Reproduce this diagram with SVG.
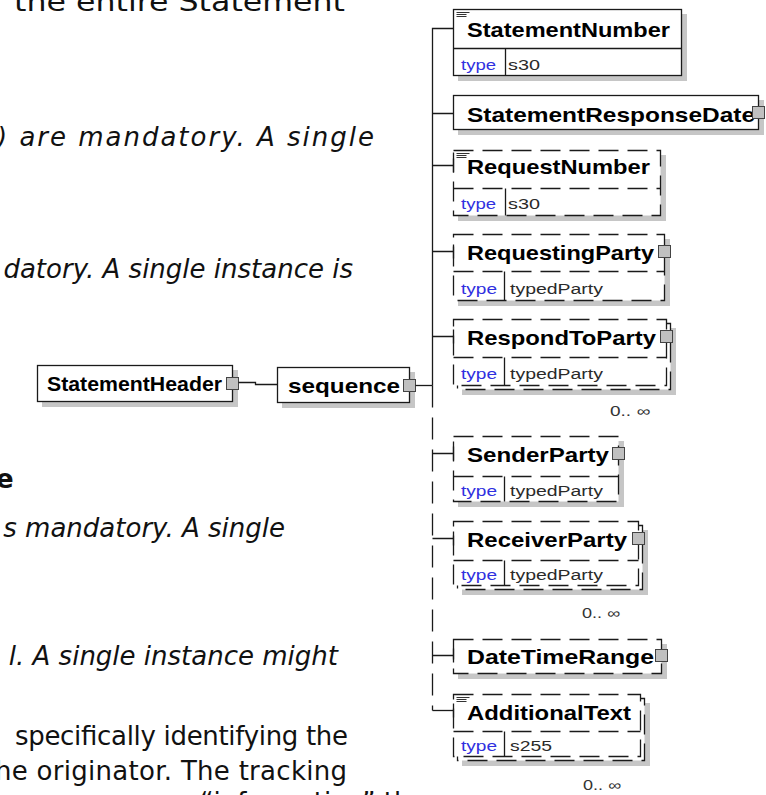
<svg xmlns="http://www.w3.org/2000/svg" width="766" height="795" viewBox="0 0 766 795">
<style>
.txt{font-family:"DejaVu Sans",Verdana,sans-serif;font-size:26px;fill:#111}
.it{font-style:italic}
.bd{font-weight:bold}
.sh{fill:#c6c6c6}
.bx{fill:#fff;stroke:#1a1a1a;stroke-width:1.3}
.dx{fill:#fff;stroke:#1a1a1a;stroke-width:1.3;stroke-dasharray:20 9}
.dl{fill:none;stroke:#1a1a1a;stroke-width:1.3;stroke-dasharray:20 9}
.ln{fill:none;stroke:#1a1a1a;stroke-width:1.3}
.lbl{font-family:"Liberation Sans",Arial,sans-serif;font-weight:bold;font-size:21px;fill:#000}
.typ{font-family:"Liberation Sans",Arial,sans-serif;font-size:15.5px;fill:#3030e0}
.val{font-family:"Liberation Sans",Arial,sans-serif;font-size:15.5px;fill:#2a2a2a}
.occ{font-family:"Liberation Sans",Arial,sans-serif;font-size:14px;fill:#333}
.ex{fill:#c0c0c0;stroke:#444;stroke-width:1}
.ann{fill:none;stroke:#333;stroke-width:1}
.cn{fill:none;stroke:#1a1a1a;stroke-width:1.3}
.dsh{stroke-dasharray:22 10}
</style>

<g id="page-text">
<text class="txt" x="14" y="11" font-size="31" textLength="331" lengthAdjust="spacingAndGlyphs">the entire Statement</text>
<text class="txt it" x="-3" y="146" font-size="27" textLength="377" lengthAdjust="spacing">) are mandatory. A single</text>
<text class="txt it" x="353" y="277.5" text-anchor="end">datory. A single instance is</text>
<text class="txt bd" x="-4" y="488">e</text>
<text class="txt it" x="285" y="537" text-anchor="end">s mandatory. A single</text>
<text class="txt it" x="338" y="665" text-anchor="end">l. A single instance might</text>
<text class="txt" x="15" y="745" textLength="333" lengthAdjust="spacing">specifically identifying the</text>
<text class="txt" x="-5" y="780" textLength="352" lengthAdjust="spacing">he originator. The tracking</text>
<text class="txt" x="200" y="811">“information” the</text>
</g>

<g id="StatementHeader">
<rect class="sh" x="42" y="370" width="196" height="37"/>
<rect class="bx" x="37.5" y="365.5" width="195" height="36"/>
<text class="lbl" x="47" y="391" textLength="175" lengthAdjust="spacingAndGlyphs">StatementHeader</text>
<rect class="ex" x="226.5" y="377.5" width="12" height="12"/>
</g>

<g id="sequence">
<rect class="sh" x="282" y="372" width="133" height="36"/>
<rect class="bx" x="277.5" y="367.5" width="132" height="35"/>
<text class="lbl" x="288" y="392.5" textLength="112" lengthAdjust="spacingAndGlyphs">sequence</text>
<rect class="ex" x="403.5" y="379.5" width="12" height="12"/>
</g>

<g id="StatementNumber">
<rect class="sh" x="458" y="14" width="229" height="67"/>
<rect class="bx" x="453.5" y="9.5" width="228" height="66"/>
<path class="ln" d="M453.5,48.5H681.5M505.5,48.5V75.5"/>
<path class="ann" d="M456.5,12.5H469.5M456.5,14.5H466.5M456.5,16.5H466.5"/>
<text class="lbl" x="467" y="36.5" textLength="203" lengthAdjust="spacingAndGlyphs">StatementNumber</text>
<text class="typ" x="461" y="69.5" textLength="35" lengthAdjust="spacingAndGlyphs">type</text>
<text class="val" x="508" y="69.5" textLength="32" lengthAdjust="spacingAndGlyphs">s30</text>
</g>

<g id="StatementResponseDate">
<rect class="sh" x="458" y="100" width="306" height="35"/>
<rect class="bx" x="453.5" y="95.5" width="305" height="34"/>
<text class="lbl" x="467" y="121.5" textLength="288" lengthAdjust="spacingAndGlyphs">StatementResponseDate</text>
<rect class="ex" x="752.5" y="106.5" width="12" height="12"/>
</g>

<g id="RequestNumber">
<rect class="sh" x="458" y="155" width="208" height="66"/>
<rect class="dx" x="453.5" y="150.5" width="207" height="65"/>
<path class="dl" d="M453.5,188.5H660.5"/>
<path class="ln" d="M505.5,188.5V215.5"/>
<path class="ann" d="M456.5,153.5H469.5M456.5,155.5H466.5M456.5,157.5H466.5"/>
<text class="lbl" x="467" y="174" textLength="183" lengthAdjust="spacingAndGlyphs">RequestNumber</text>
<text class="typ" x="461" y="209" textLength="35" lengthAdjust="spacingAndGlyphs">type</text>
<text class="val" x="508" y="209" textLength="32" lengthAdjust="spacingAndGlyphs">s30</text>
</g>

<g id="RequestingParty">
<rect class="sh" x="458" y="239" width="212" height="67"/>
<rect class="dx" x="453.5" y="234.5" width="211" height="66"/>
<path class="dl" d="M453.5,271.5H664.5"/>
<path class="ln" d="M504.5,271.5V300.5"/>
<text class="lbl" x="467" y="260" textLength="187" lengthAdjust="spacingAndGlyphs">RequestingParty</text>
<text class="typ" x="461" y="294" textLength="36" lengthAdjust="spacingAndGlyphs">type</text>
<text class="val" x="510" y="294" textLength="93" lengthAdjust="spacingAndGlyphs">typedParty</text>
<rect class="ex" x="658.5" y="245.5" width="12" height="12"/>
</g>

<g id="RespondToParty">
<rect class="sh" x="462" y="328" width="214" height="67"/>
<rect class="dx" x="457.5" y="323.5" width="213" height="66"/>
<rect class="dx" x="453.5" y="319.5" width="213" height="66"/>
<path class="dl" d="M453.5,357.5H666.5"/>
<path class="ln" d="M504.5,357.5V385.5"/>
<text class="lbl" x="467" y="345" textLength="189" lengthAdjust="spacingAndGlyphs">RespondToParty</text>
<text class="typ" x="461" y="379" textLength="36" lengthAdjust="spacingAndGlyphs">type</text>
<text class="val" x="510" y="379" textLength="93" lengthAdjust="spacingAndGlyphs">typedParty</text>
<rect class="ex" x="660.5" y="330.5" width="12" height="12"/>
<text class="occ" x="610" y="416" textLength="40" lengthAdjust="spacingAndGlyphs">0.. ∞</text>
</g>

<g id="SenderParty">
<rect class="sh" x="458" y="441" width="166" height="66"/>
<rect class="dx" x="453.5" y="436.5" width="165" height="65"/>
<path class="dl" d="M453.5,476.5H618.5"/>
<path class="ln" d="M504.5,476.5V501.5"/>
<text class="lbl" x="467" y="462" textLength="142" lengthAdjust="spacingAndGlyphs">SenderParty</text>
<text class="typ" x="461" y="495.5" textLength="36" lengthAdjust="spacingAndGlyphs">type</text>
<text class="val" x="510" y="495.5" textLength="93" lengthAdjust="spacingAndGlyphs">typedParty</text>
<rect class="ex" x="612.5" y="447.5" width="12" height="12"/>
</g>

<g id="ReceiverParty">
<rect class="sh" x="462" y="530" width="186" height="65"/>
<rect class="dx" x="457.5" y="525.5" width="185" height="64"/>
<rect class="dx" x="453.5" y="521.5" width="185" height="64"/>
<path class="dl" d="M453.5,560.5H638.5"/>
<path class="ln" d="M504.5,560.5V585.5"/>
<text class="lbl" x="467" y="547" textLength="160" lengthAdjust="spacingAndGlyphs">ReceiverParty</text>
<text class="typ" x="461" y="579.5" textLength="36" lengthAdjust="spacingAndGlyphs">type</text>
<text class="val" x="510" y="579.5" textLength="93" lengthAdjust="spacingAndGlyphs">typedParty</text>
<rect class="ex" x="632.5" y="532.5" width="12" height="12"/>
<text class="occ" x="582" y="618" textLength="38" lengthAdjust="spacingAndGlyphs">0.. ∞</text>
</g>

<g id="DateTimeRange">
<rect class="sh" x="458" y="644" width="209" height="35"/>
<rect class="dx" x="453.5" y="639.5" width="208" height="34"/>
<text class="lbl" x="467" y="664" textLength="187" lengthAdjust="spacingAndGlyphs">DateTimeRange</text>
<rect class="ex" x="655.5" y="649.5" width="12" height="12"/>
</g>

<g id="AdditionalText">
<rect class="sh" x="462" y="703" width="188" height="63"/>
<rect class="dx" x="457.5" y="698.5" width="187" height="62"/>
<rect class="dx" x="453.5" y="694.5" width="187" height="62"/>
<path class="dl" d="M453.5,731.5H640.5"/>
<path class="ln" d="M504.5,731.5V756.5"/>
<path class="ann" d="M456.5,697.5H469.5M456.5,699.5H466.5M456.5,701.5H466.5"/>
<text class="lbl" x="467" y="719.5" textLength="164" lengthAdjust="spacingAndGlyphs">AdditionalText</text>
<text class="typ" x="461" y="750.5" textLength="36" lengthAdjust="spacingAndGlyphs">type</text>
<text class="val" x="510" y="750.5" textLength="42" lengthAdjust="spacingAndGlyphs">s255</text>
<text class="occ" x="583" y="790" textLength="38" lengthAdjust="spacingAndGlyphs">0.. ∞</text>
</g>

<g id="connectors">
<path class="cn" d="M238.5,382.5H255.5V384.5H277.5"/>
<path class="cn" d="M415.5,385.5H432.5"/>
<path class="cn" d="M453.5,28.5H432.5V385.5"/>
<path class="cn dsh" d="M432.5,385.5V710.5"/>
<path class="cn" d="M432.5,710.5H453.5"/>
<path class="cn" d="M432.5,113.5H453.5M432.5,165.5H453.5M432.5,251.5H453.5M432.5,336.5H453.5M432.5,453.5H453.5M432.5,538.5H453.5M432.5,655.5H453.5"/>
<path class="cn" d="M453.5,158.5V172.5M453.5,244.5V258.5M453.5,329.5V343.5M453.5,446.5V460.5M453.5,531.5V545.5M453.5,648.5V662.5M453.5,703.5V717.5"/>
</g>
</svg>
